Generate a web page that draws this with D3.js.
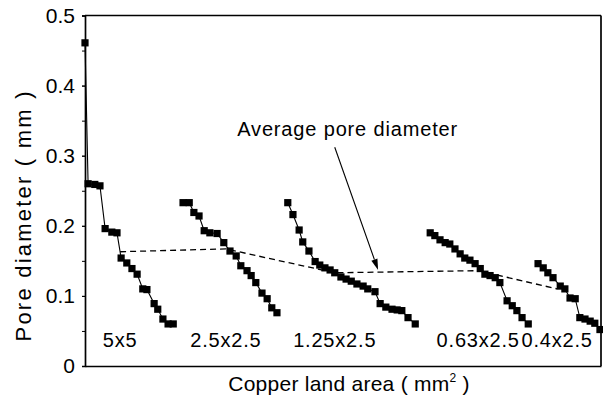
<!DOCTYPE html>
<html>
<head>
<meta charset="utf-8">
<script src="https://cdn.jsdelivr.net/npm/d3@7/dist/d3.min.js"></script>
<style>
  html, body { margin: 0; padding: 0; background: #fff; }
  svg { display: block; font-family: "Liberation Sans", Arial, Helvetica, sans-serif; }
</style>
</head>
<body>
<svg id="chart" width="603" height="405"></svg>
<script>
// Copper land categories (mm x mm)
const categories = ["5x5", "2.5x2.5", "1.25x2.5", "0.63x2.5", "0.4x2.5"];

// Position along the copper-land axis (arbitrary 0-100 units) and pore diameter (mm)
const pos5x5   = [0, 0.6, 1.9, 2.9, 3.9, 5.2, 6.2, 7.0, 8.1, 9.1, 10.1, 11.2, 12.0, 13.4, 14.1, 15.1, 16.1, 17.1];
const pore5x5  = [0.461, 0.260, 0.259, 0.257, 0.196, 0.191, 0.190, 0.154, 0.147, 0.139, 0.131, 0.110, 0.109, 0.089, 0.081, 0.067, 0.060, 0.060];

const pos2525  = [19.0, 20.2, 21.1, 22.1, 23.1, 24.2, 25.6, 26.9, 28.1, 29.3, 30.2, 31.4, 32.2, 33.1, 34.3, 35.3, 36.2, 37.2];
const pore2525 = [0.233, 0.233, 0.219, 0.214, 0.193, 0.190, 0.189, 0.176, 0.164, 0.157, 0.143, 0.136, 0.129, 0.119, 0.104, 0.096, 0.083, 0.076];

const pos12525  = [39.3, 40.3, 41.5, 42.2, 43.4, 44.6, 45.5, 46.5, 47.5, 48.4, 49.6, 50.6, 51.6, 52.7, 53.9, 54.8, 56.2, 57.2, 58.3, 59.5, 60.5, 61.4, 62.6, 64.0];
const pore12525 = [0.233, 0.216, 0.194, 0.177, 0.164, 0.149, 0.144, 0.140, 0.137, 0.133, 0.127, 0.124, 0.121, 0.117, 0.114, 0.110, 0.106, 0.089, 0.084, 0.081, 0.080, 0.079, 0.069, 0.060];

const pos06325  = [66.9, 67.8, 68.8, 69.8, 70.7, 71.7, 72.7, 73.6, 74.6, 75.6, 76.6, 77.5, 78.5, 79.5, 80.4, 81.8, 82.8, 83.7, 84.7, 85.9];
const pore06325 = [0.190, 0.186, 0.180, 0.176, 0.174, 0.167, 0.160, 0.154, 0.151, 0.146, 0.139, 0.131, 0.129, 0.126, 0.119, 0.093, 0.086, 0.079, 0.069, 0.060];

const pos0425  = [87.8, 88.8, 89.7, 90.7, 92.1, 93.0, 94.0, 95.0, 95.9, 96.9, 97.9, 98.8, 99.8];
const pore0425 = [0.146, 0.140, 0.133, 0.126, 0.114, 0.110, 0.097, 0.096, 0.069, 0.067, 0.064, 0.061, 0.052];

// Average pore diameter per category
const avgPos      = [6.8, 27.3, 48.4, 76.2, 91.5];
const avgDiameter = [0.163, 0.167, 0.133, 0.136, 0.110];

// Y axis ticks
const yTickLabels = [0, 0.1, 0.2, 0.3, 0.4, 0.5];
const yMinorTicks = [0, 0.05, 0.1, 0.15, 0.2, 0.25, 0.3, 0.35, 0.4, 0.45, 0.5];

const groups = [
  { pos: pos5x5,   pore: pore5x5 },
  { pos: pos2525,  pore: pore2525 },
  { pos: pos12525, pore: pore12525 },
  { pos: pos06325, pore: pore06325 },
  { pos: pos0425,  pore: pore0425 }
].map(g => g.pos.map((p, i) => ({ x: p, y: g.pore[i] })));

const svg = d3.select("#chart");
const plot = { left: 85, right: 601, top: 15.5, bottom: 366 };

const x = d3.scaleLinear().domain([0, 100]).range([plot.left, plot.right]);
const y = d3.scaleLinear().domain([0, 0.5]).range([plot.bottom, plot.top]);

const FONT = 20;

// Minor tick marks on the y axis
svg.append("g")
  .attr("transform", `translate(${plot.left},0)`)
  .call(d3.axisLeft(y).tickValues(yMinorTicks).tickSize(3).tickFormat(""))
  .call(g => g.select(".domain").remove())
  .call(g => g.selectAll("line").attr("stroke", "#000"));

// Y axis with labels
const yAxis = svg.append("g")
  .attr("transform", `translate(${plot.left},0)`)
  .call(d3.axisLeft(y).tickValues(yTickLabels).tickSize(3).tickPadding(7)
        .tickFormat(d => d === 0 ? "0" : d3.format(".1f")(d)));
yAxis.select(".domain").attr("stroke", "#000").attr("stroke-width", 1.7);
yAxis.selectAll("line").attr("stroke", "#000");
yAxis.selectAll("text")
  .attr("font-size", 21)
  .attr("fill", "#000")
  .attr("font-family", "\"Liberation Sans\", Arial, sans-serif");

// X axis (no tick labels, categories are annotated inside the plot)
const xAxis = svg.append("g")
  .attr("transform", `translate(0,${plot.bottom})`)
  .call(d3.axisBottom(x).tickValues([]).tickSizeOuter(0));
xAxis.select(".domain").attr("stroke", "#000").attr("stroke-width", 1.7);

// Frame: top and right edges
svg.append("line")
  .attr("x1", plot.left).attr("x2", plot.right)
  .attr("y1", plot.top).attr("y2", plot.top)
  .attr("stroke", "#000").attr("stroke-width", 1.5);
svg.append("line")
  .attr("x1", plot.right).attr("x2", plot.right)
  .attr("y1", plot.top).attr("y2", plot.bottom)
  .attr("stroke", "#000").attr("stroke-width", 1.7);

// Pore diameter series, one connected run per category
const line = d3.line().x(d => x(d.x)).y(d => y(d.y));
const series = svg.append("g");
groups.forEach(g => {
  series.append("path")
    .datum(g)
    .attr("d", line)
    .attr("fill", "none")
    .attr("stroke", "#000")
    .attr("stroke-width", 1.1);
  series.selectAll(null)
    .data(g)
    .enter().append("rect")
    .attr("x", d => x(d.x) - 3.6)
    .attr("y", d => y(d.y) - 3.6)
    .attr("width", 7.2)
    .attr("height", 7.2)
    .attr("fill", "#000");
});

// Average pore diameter, dashed
const avgData = avgPos.map((p, i) => ({ x: p, y: avgDiameter[i] }));
svg.append("path")
  .datum(avgData)
  .attr("d", line)
  .attr("fill", "none")
  .attr("stroke", "#000")
  .attr("stroke-width", 1.3)
  .attr("stroke-dasharray", "6,4");

// Category labels, centred under each category's average
svg.append("g").selectAll("text")
  .data(categories)
  .enter().append("text")
  .attr("x", (d, i) => x(avgPos[i]))
  .attr("y", plot.bottom - 19)
  .attr("text-anchor", "middle")
  .attr("font-size", FONT)
  .attr("fill", "#000")
  .attr("letter-spacing", 0.8)
  .text(d => d);

// Annotation with arrow
const annX = x(29.5), annY = y(0.328);
svg.append("text")
  .attr("x", annX)
  .attr("y", annY)
  .attr("font-size", FONT)
  .attr("fill", "#000")
  .attr("textLength", 220)
  .attr("lengthAdjust", "spacing")
  .text("Average pore diameter");

const a0 = [x(48.4), y(0.312)];
const a1 = [x(56.8), y(0.137)];
const ang = Math.atan2(a1[1] - a0[1], a1[0] - a0[0]);
const headLen = 11, headHalf = 3.2;
const base = [a1[0] - headLen * Math.cos(ang), a1[1] - headLen * Math.sin(ang)];
svg.append("line")
  .attr("x1", a0[0]).attr("y1", a0[1])
  .attr("x2", base[0]).attr("y2", base[1])
  .attr("stroke", "#000").attr("stroke-width", 1.1);
svg.append("path")
  .attr("d", d3.line()([
    a1,
    [base[0] + headHalf * Math.sin(ang), base[1] - headHalf * Math.cos(ang)],
    [base[0] - headHalf * Math.sin(ang), base[1] + headHalf * Math.cos(ang)]
  ]) + "Z")
  .attr("fill", "#000");

// Axis titles
const xTitle = svg.append("text")
  .attr("x", 349)
  .attr("y", 391)
  .attr("text-anchor", "middle")
  .attr("font-size", 21)
  .attr("letter-spacing", 0.25)
  .attr("fill", "#000");
xTitle.append("tspan").text("Copper land area ( mm");
xTitle.append("tspan").attr("font-size", 12).attr("dy", -9).text("2");
xTitle.append("tspan").attr("dy", 9).text(" )");

svg.append("text")
  .attr("transform", "translate(31,216.5) rotate(-90)")
  .attr("text-anchor", "middle")
  .attr("font-size", 22)
  .attr("fill", "#000")
  .attr("textLength", 250)
  .attr("lengthAdjust", "spacing")
  .text("Pore diameter ( mm )");
</script>
</body>
</html>
